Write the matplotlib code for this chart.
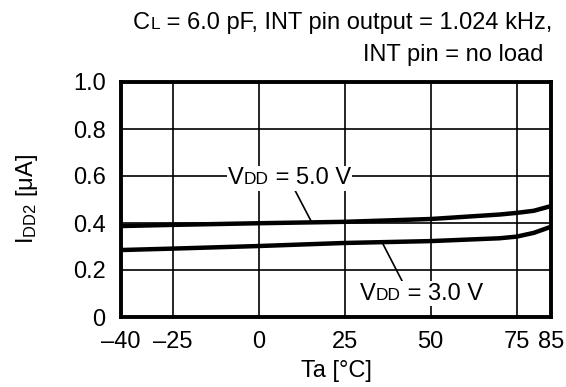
import matplotlib
matplotlib.use("Agg")
import matplotlib.pyplot as plt
from matplotlib.offsetbox import TextArea, HPacker, AnnotationBbox

plt.rcParams['font.family'] = ['Liberation Sans', 'DejaVu Sans']
plt.rcParams['mathtext.fontset'] = 'custom'
plt.rcParams['mathtext.rm'] = 'Liberation Sans'
plt.rcParams['mathtext.it'] = 'Liberation Sans'

# data
temp = [-40, -25, 0, 25, 50, 70, 75, 80, 85]
idd_5v = [0.387, 0.392, 0.399, 0.405, 0.417, 0.436, 0.443, 0.452, 0.472]
idd_3v = [0.285, 0.291, 0.302, 0.315, 0.323, 0.335, 0.342, 0.358, 0.384]

xticks = [-40, -25, 0, 25, 50, 75, 85]
xtick_labels = ['\u201340', '\u201325', '0', '25', '50', '75', '85']
yticks = [0, 0.2, 0.4, 0.6, 0.8, 1.0]
ytick_labels = ['0', '0.2', '0.4', '0.6', '0.8', '1.0']

fs = 17
fs_sub = 12.5


def small_sub_label(main, sub, rest):
    # "V" + smaller "DD" on the same baseline + rest of the text
    parts = [TextArea(main, textprops=dict(fontsize=fs)),
             TextArea(sub, textprops=dict(fontsize=fs_sub)),
             TextArea(rest, textprops=dict(fontsize=fs))]
    return HPacker(children=parts, align='baseline', pad=0, sep=0)


fig = plt.figure(figsize=(5.66, 3.87), dpi=100)
ax = fig.add_axes([121 / 566, 1 - 317 / 387, (551 - 121) / 566, (317 - 82) / 387])

ax.set_xlim(-40, 85)
ax.set_ylim(0, 1.0)
ax.set_xticks(xticks)
ax.set_xticklabels(xtick_labels)
ax.set_yticks(yticks)
ax.set_yticklabels(ytick_labels)
ax.tick_params(axis='x', length=0, labelsize=fs, pad=10)
ax.tick_params(axis='y', length=0, labelsize=fs, pad=11)
ax.grid(True, color='black', linewidth=1.2)
ax.set_axisbelow(True)
for sp in ax.spines.values():
    sp.set_linewidth(2.8)

ax.plot(temp, idd_5v, color='black', linewidth=3.2, zorder=3)
ax.plot(temp, idd_3v, color='black', linewidth=3.2, zorder=3)

# annotations with leader lines
ab5 = AnnotationBbox(small_sub_label('V', 'DD', ' = 5.0 V'), (15.4, 0.404), xybox=(9, 0.59),
                     xycoords='data', boxcoords='data', box_alignment=(0.5, 0.5),
                     pad=0.1, bboxprops=dict(facecolor='white', edgecolor='none'),
                     arrowprops=dict(arrowstyle='-', color='black', lw=1.2, shrinkA=0, shrinkB=0,
                                     relpos=(0.54, 0.0)), zorder=4)
ax.add_artist(ab5)
ab3 = AnnotationBbox(small_sub_label('V', 'DD', ' = 3.0 V'), (36, 0.315), xybox=(47.3, 0.10),
                     xycoords='data', boxcoords='data', box_alignment=(0.5, 0.5),
                     pad=0.1, bboxprops=dict(facecolor='white', edgecolor='none'),
                     arrowprops=dict(arrowstyle='-', color='black', lw=1.2, shrinkA=0, shrinkB=0,
                                     relpos=(0.35, 1.0)), zorder=4)
ax.add_artist(ab3)

ax.set_xlabel('Ta [\u00b0C]', fontsize=fs, labelpad=5)
ax.set_ylabel('$\\mathrm{I_{DD2}}$ [\u03bcA]', fontsize=fs, labelpad=24)

title1 = AnnotationBbox(small_sub_label('C', 'L', ' = 6.0 pF, INT pin output = 1.024 kHz,'),
                        (552 / 566, 1 - 23 / 387), xycoords='figure fraction',
                        box_alignment=(1, 0.5), frameon=False, pad=0)
fig.add_artist(title1)
fig.text(543 / 566, 1 - 55 / 387, 'INT pin = no load', ha='right', va='center', fontsize=fs)

fig.savefig('out.png', dpi=100, facecolor='white')
